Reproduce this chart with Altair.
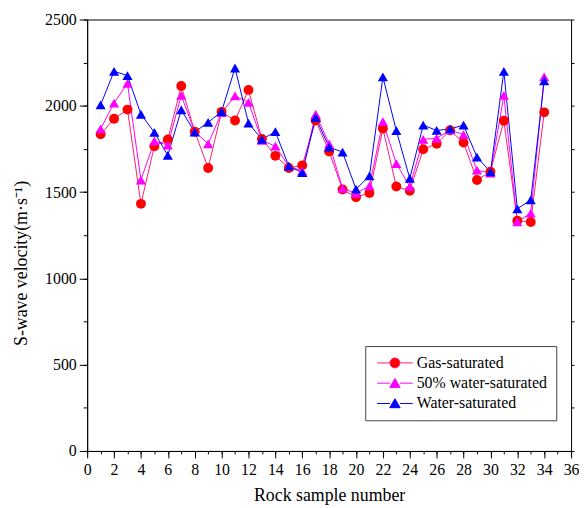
import altair as alt
import pandas as pd

samples = list(range(1, 35))
gas = [1835, 1925, 1978, 1432, 1766, 1805, 2115, 1850, 1640, 1965, 1915, 2092,
       1808, 1710, 1640, 1655, 1915, 1735, 1515, 1470, 1495, 1868, 1532, 1508,
       1748, 1780, 1858, 1787, 1570, 1618, 1913, 1334, 1327, 1962]
half = [1866, 2016, 2130, 1570, 1796, 1772, 2060, 1850, 1780, 1960, 2057, 2020,
        1800, 1766, 1650, 1622, 1952, 1779, 1522, 1492, 1536, 1908, 1665, 1532,
        1806, 1812, 1860, 1833, 1627, 1610, 2060, 1327, 1378, 2167]
water = [2005, 2200, 2175, 1951, 1846, 1713, 1976, 1848, 1904, 1967, 2219, 1900,
         1805, 1850, 1650, 1613, 1932, 1760, 1732, 1517, 1594, 2167, 1856, 1579,
         1888, 1857, 1866, 1888, 1703, 1617, 2200, 1403, 1455, 2145]

series = ["Gas-saturated", "50% water-saturated", "Water-saturated"]
marker_colors = ["#FF0000", "#FF00FF", "#0000FF"]
line_colors = ["#FF1A75", "#FF00FF", "#0000FF"]

# legend symbols: short line with the marker in the middle
circle_path = "M-1,0H1.6M3.6,0H6.2M3.6,0A1,1 0 1,1 1.6,0A1,1 0 1,1 3.6,0Z"
tri_path = "M-1,0H1.6M3.6,0H6.2M2.6,-0.95L3.65,0.85L1.55,0.85Z"
legend_shapes = [circle_path, tri_path, tri_path]

rows = []
for k, (name, vals) in enumerate(zip(series, [gas, half, water])):
    for s, v in zip(samples, vals):
        rows.append({"sample": s, "velocity": v, "series": name, "ord": k})
df = pd.DataFrame(rows)

FONT = "Liberation Serif"

xscale = alt.Scale(domain=[0, 36], nice=False)
yscale = alt.Scale(domain=[0, 2500], nice=False)
fill_scale = alt.Scale(domain=series, range=marker_colors)
stroke_scale = alt.Scale(domain=series, range=line_colors)

legend = alt.Legend(
    title=None, orient="none", legendX=281, legendY=330, direction="vertical",
    labelFont=FONT, labelFontSize=16, labelColor="black", labelLimit=400,
    padding=9, strokeColor="#444444", fillColor="white",
    symbolSize=100, labelOffset=27, rowPadding=4.5, symbolOpacity=1,
    symbolStrokeWidth=1,
)

x_major = alt.Axis(values=list(range(0, 37, 2)), tickSize=7, labelPadding=4,
                   labelFont=FONT, labelFontSize=16,
                   title="Rock sample number", titleFontSize=18, titleFont=FONT,
                   titleFontWeight="normal", titleX=244.5, titleY=50,
                   titleBaseline="alphabetic", grid=False, labelFlush=False,
                   orient="bottom")
y_major = alt.Axis(values=list(range(0, 2501, 500)), tickSize=8, labelPadding=3,
                   labelFont=FONT, labelFontSize=16, format="d",
                   title="S-wave velocity(m·s⁻¹)", titleFontSize=18, titleFont=FONT,
                   titleFontWeight="normal", titleX=-66, titleY=246,
                   titleAlign="center", titleBaseline="middle", grid=False,
                   orient="left")
x_minor = alt.Axis(values=list(range(0, 37, 1)), tickSize=3, labels=False,
                   domain=False, title=None, grid=False, orient="bottom")
y_minor = alt.Axis(values=list(range(0, 2501, 250)), tickSize=4, labels=False,
                   domain=False, title=None, grid=False, orient="left")
y_right = alt.Axis(values=list(range(0, 2501, 250)), tickSize=3, labels=False,
                   domain=False, title=None, grid=False, orient="right")

base = alt.Chart(df)

lines = base.mark_line(strokeWidth=1).encode(
    x=alt.X("sample:Q", scale=xscale, axis=x_major),
    y=alt.Y("velocity:Q", scale=yscale, axis=y_major),
    stroke=alt.Stroke("series:N", scale=stroke_scale, legend=legend),
    order=alt.Order("sample:Q"),
)

circles = base.transform_filter(alt.datum.series == series[0]).mark_point(
    filled=True, size=100, opacity=1, strokeWidth=0, shape="circle"
).encode(
    x=alt.X("sample:Q", scale=xscale, axis=x_minor),
    y=alt.Y("velocity:Q", scale=yscale, axis=None),
    fill=alt.Fill("series:N", scale=fill_scale, legend=legend),
)

triangles = base.transform_filter(alt.datum.series != series[0]).mark_point(
    filled=True, size=105, opacity=1, strokeWidth=0, shape="triangle-up"
).encode(
    x=alt.X("sample:Q", scale=xscale, axis=None),
    y=alt.Y("velocity:Q", scale=yscale, axis=y_minor),
    fill=alt.Fill("series:N", scale=fill_scale, legend=legend),
    order=alt.Order("ord:Q"),
)

legend_layer = base.mark_point(filled=True, size=100, opacity=0, strokeWidth=1).encode(
    x=alt.X("sample:Q", scale=xscale, axis=None),
    y=alt.Y("velocity:Q", scale=yscale, axis=y_right),
    fill=alt.Fill("series:N", scale=fill_scale, legend=legend),
    stroke=alt.Stroke("series:N", scale=stroke_scale, legend=legend),
    shape=alt.Shape("series:N", scale=alt.Scale(domain=series, range=legend_shapes),
                    legend=legend),
)

chart = alt.layer(lines, circles, triangles, legend_layer).resolve_axis(
    x="independent", y="independent"
).properties(
    width=489, height=436,
    autosize=alt.AutoSizeParams(type="none"),
    padding={"left": 80, "top": 9, "right": 8, "bottom": 55},
).configure_view(
    stroke="black", strokeWidth=1
).configure_axis(
    labelFont=FONT, labelFontSize=16, labelColor="black", titleColor="black",
    domainColor="black", tickColor="black", domainWidth=1, tickWidth=1,
).configure_legend(
    labelFont=FONT
)

chart.save("out.html", embed_options={"renderer": "svg", "actions": False})
